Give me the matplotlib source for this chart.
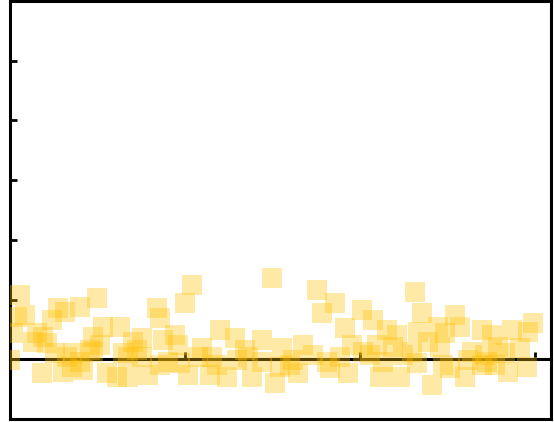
import numpy as np
import matplotlib
matplotlib.use("Agg")
from matplotlib import pyplot as plt

# point positions
x_vals = [2.9, 24.9, 13.7, 15.7, 20.0, 2.0, 4.3, 12.0, 0.9, 7.7,
          9.4, 6.6, 10.6, 12.9, 0.0, 26.6, 31.4, 23.7, 25.7, 22.9,
          16.3, 20.0, 17.7, 20.9, 9.1, 15.1, 27.7, 30.6, 33.7, 33.7,
          35.1, 52.0, 74.9, 50.0, 42.0, 42.9, 37.7, 43.7, 47.1, 48.0,
          60.0, 64.3, 72.0, 67.1, 54.9, 45.1, 50.9, 57.1, 62.0, 39.4,
          69.1, 75.7, 68.0, 57.7, 37.7, 87.7, 92.9, 89.1, 100.6, 103.7,
          95.7, 107.7, 110.6, 97.7, 83.7, 77.7, 86.6, 100.9, 104.9, 82.3,
          80.0, 91.4, 96.6, 105.7, 111.4, 102.9, 112.3, 115.7, 117.7, 127.1,
          116.6, 122.3, 124.3, 128.6, 134.9, 137.7, 143.4, 149.4, 148.0, 119.4,
          122.9, 114.9, 132.0, 139.4, 145.7, 135.7, 141.4, 125.7, 130.0, 120.6,
          142.3, 147.7, 134.9, 138.6, 80.9, 59.1, 64.9, 72.0, 77.1, 53.7,
          48.6, 18.0, 23.7, 32.3, 36.3, 42.9, 94.3, 106.6, 90.6, 109.4,
          116.3, 123.7, 136.3, 130.9]
y_vals = [1.08, 1.03, 0.86, 0.79, 0.88, 0.71, 0.74, 0.66, 0.44, 0.44,
          0.38, 0.29, 0.28, 0.11, -0.01, 0.54, 0.54, 0.38, 0.24, 0.16,
          0.03, -0.04, -0.13, -0.18, -0.23, -0.21, -0.23, -0.29, -0.29, 0.04,
          0.29, 1.24, 1.36, 0.94, 0.86, 0.69, 0.36, 0.33, 0.41, 0.24,
          0.49, 0.36, 0.33, 0.16, 0.19, -0.04, -0.26, -0.26, -0.29, -0.26,
          -0.29, -0.39, 0.03, 0.03, 0.04, 1.16, 0.94, 0.78, 0.83, 0.66,
          0.53, 0.49, 0.41, 0.24, 0.24, 0.19, 0.08, 0.13, 0.24, -0.23,
          -0.09, -0.14, -0.23, -0.29, -0.29, 0.08, 0.08, 1.13, 0.78, 0.74,
          0.46, 0.54, 0.44, 0.54, 0.49, 0.41, 0.49, 0.61, 0.46, 0.29,
          0.21, 0.13, 0.13, 0.21, 0.19, 0.08, 0.11, -0.14, -0.29, -0.43,
          -0.21, -0.13, -0.09, -0.09, -0.01, -0.09, -0.01, -0.04, -0.13, 0.04,
          -0.06, 0.11, 0.13, 0.11, 0.16, -0.09, 0.04, -0.04, -0.04, 0.21,
          -0.06, -0.09, -0.04, -0.01]

x_ticks = [50, 100, 150]
y_ticks = [0, 1, 2, 3, 4, 5]

fig = plt.figure(figsize=(5.54, 4.22), dpi=100)
rect = [10 / 554, 3 / 422, 541 / 554, 418 / 422]

# frame behind everything
frame = fig.add_axes(rect, zorder=-1)
frame.set_xticks([])
frame.set_yticks([])
for s in frame.spines.values():
    s.set_linewidth(2.2)

ax = fig.add_axes(rect)
ax.patch.set_visible(False)
for side in ["top", "right", "left"]:
    ax.spines[side].set_visible(False)
ax.spines["bottom"].set_position(("data", 0))
ax.spines["bottom"].set_linewidth(2.2)
ax.spines["bottom"].set_zorder(1)

ax.scatter(x_vals, y_vals, marker="s", s=190, color="#FFC000",
           alpha=0.35, linewidths=0, zorder=3)

ax.set_xlim(0, 154.6)
ax.set_ylim(-1, 6)
ax.set_xticks(x_ticks)
ax.set_yticks(y_ticks)
ax.tick_params(axis="x", direction="in", length=5, width=2, labelbottom=False)
ax.tick_params(axis="y", direction="in", length=5, width=2, labelleft=False)

fig.savefig("out.png", dpi=100)
